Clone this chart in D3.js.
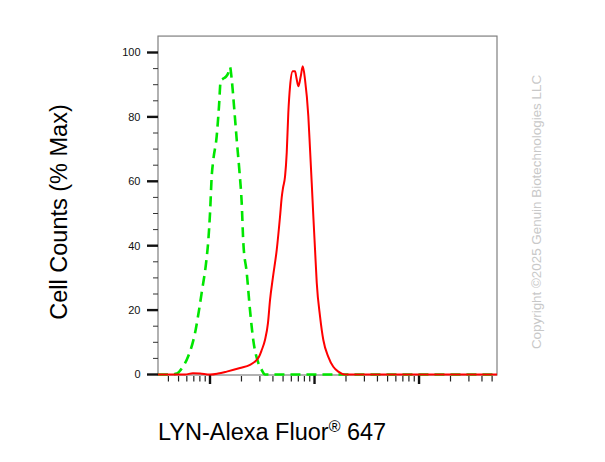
<!DOCTYPE html>
<html><head><meta charset="utf-8">
<script src="https://cdn.jsdelivr.net/npm/d3@7/dist/d3.min.js"></script>
<style>body{margin:0;background:#fff}svg{display:block}text{font-family:Arial,"Liberation Sans",sans-serif}</style>
</head><body><svg id="c" width="605" height="462"></svg>
<script>
// Series data: [fluorescence intensity, % of max]
const controlSeries = [[318,0],[414,0],[483,0.3],[540,2],[616,5.5],[718,12.8],[785,20],[838,26],[916,34.5],[964,41.8],[1000,50],[1038,61.5],[1076,66.7],[1159,74],[1219,83.3],[1265,91.2],[1323,91.8],[1423,92.5],[1487,93.5],[1553,95.5],[1614,91.6],[1698,83.3],[1801,72.9],[1907,63.6],[2010,53.3],[2083,41],[2246,31.6],[2414,20],[2596,10.6],[2897,3.6],[3124,1.4],[3357,0],[557000,0]];
const lynSeries = [[318,0],[577,0],[687,0.4],[802,0.3],[1000,0],[1193,0.3],[1445,0.9],[1936,2],[2414,3],[2755,4.3],[2943,5.5],[3124,7.6],[3357,10.7],[3587,16],[3749,23],[4008,30.4],[4349,38.7],[4675,49],[4854,55],[4998,58],[5224,61.5],[5421,68.9],[5614,81.3],[5832,89.5],[6184,94.2],[6506,94.2],[6724,92],[6998,89.5],[7382,92.6],[7713,95.7],[8111,91.6],[8725,80.2],[9056,70],[9399,59.6],[9746,49],[10117,38.7],[10501,28.5],[11298,18],[12142,10.7],[13552,5.5],[15127,2.4],[16885,0.9],[19582,0],[557000,0]];
const yMajorTicks = [0,20,40,60,80,100];
const yMinorTicks = [5,10,15,25,30,35,45,50,55,65,70,75,85,90,95];
const xMajorTicks = [1e3,1e4,1e5];
const xDomain = [318, 557000];
const yTitle = "Cell Counts (% Max)";
const xTitle = "LYN-Alexa Fluor";
const xTitleSup = "®";
const xTitleEnd = " 647";
const watermark = "Copyright ©2025 Genuin Biotechnologies LLC";

const svg = d3.select("#c");
const L = 158, R = 497, B = 375;
const x = d3.scaleLog().domain(xDomain).range([L, R]);
const y = d3.scaleLinear().domain([0,100]).range([374.5, 52.5]);
const T = y(105.1);

// minor x ticks
const xMinor = [];
for (let d = 100; d <= 1e6; d *= 10) for (let k = 1; k < 10; k++) { const v = d*k; if (v >= xDomain[0] && v <= xDomain[1] && !xMajorTicks.includes(v)) xMinor.push(v); }

const g = svg.append("g");
// frame
g.append("rect").attr("x", L).attr("y", T).attr("width", R-L).attr("height", B-T)
 .attr("fill","none").attr("stroke","#7f7f7f").attr("stroke-width",1.2);

// y ticks
g.selectAll(".ymin").data(yMinorTicks).join("line")
 .attr("x1", L-5).attr("x2", L).attr("y1", d=>y(d)).attr("y2", d=>y(d)).attr("stroke","#333").attr("stroke-width",1);
g.selectAll(".ymaj").data(yMajorTicks).join("line")
 .attr("x1", L-11).attr("x2", L).attr("y1", d=>y(d)).attr("y2", d=>y(d)).attr("stroke","#111").attr("stroke-width",2.4);
g.selectAll(".ylab").data(yMajorTicks).join("text")
 .attr("x", 140.5).attr("y", d=>y(d)).attr("dy","0.36em").attr("text-anchor","end")
 .attr("font-size", 11).attr("fill","#111").text(d=>d);

// x ticks
g.selectAll(".xmin").data(xMinor).join("line")
 .attr("x1", d=>x(d)).attr("x2", d=>x(d)).attr("y1", B+1).attr("y2", B+6.5).attr("stroke","#222").attr("stroke-width",1.2);
g.selectAll(".xmaj").data(xMajorTicks).join("line")
 .attr("x1", d=>x(d)).attr("x2", d=>x(d)).attr("y1", B).attr("y2", B+9).attr("stroke","#111").attr("stroke-width",2.4);

// curves
const line = d3.line().x(d=>x(d[0])).y(d=>y(d[1])).curve(d3.curveMonotoneX);
g.append("path").datum(controlSeries).attr("d", line).attr("fill","none")
 .attr("stroke","#00e600").attr("stroke-width",2.6).attr("stroke-dasharray","10,6");
g.append("path").datum(lynSeries).attr("d", line).attr("fill","none")
 .attr("stroke","#ff0000").attr("stroke-width",2);

// titles
svg.append("text").attr("transform","translate(67,212) rotate(-90)").attr("text-anchor","middle")
 .attr("font-size",23.5).attr("fill","#000").text(yTitle);
const xt = svg.append("text").attr("x",158).attr("y",440).attr("font-size",23.5).attr("fill","#000");
xt.append("tspan").text(xTitle);
xt.append("tspan").attr("font-size",16).attr("dy",-8).text(xTitleSup);
xt.append("tspan").attr("dy",8).text(xTitleEnd);

svg.append("text").attr("transform","translate(541,212) rotate(-90)").attr("text-anchor","middle")
 .attr("font-size",13.4).attr("fill","#c8c8c8").text(watermark);
</script></body></html>
